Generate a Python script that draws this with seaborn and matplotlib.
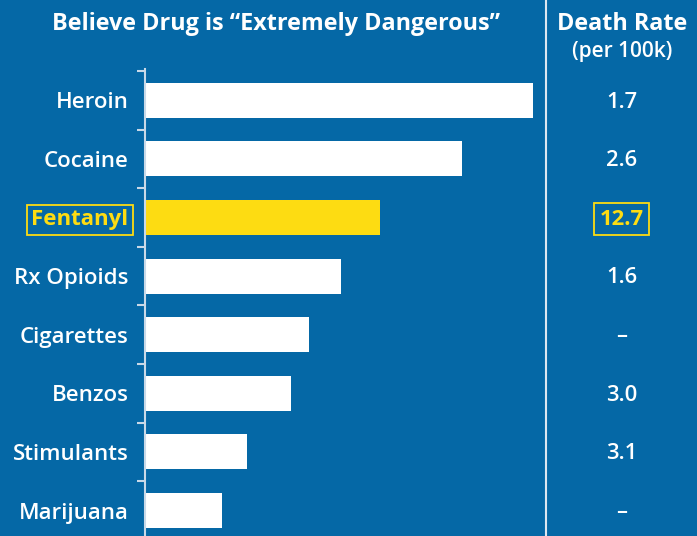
import matplotlib
matplotlib.use('Agg')
import matplotlib.pyplot as plt
import pandas as pd
import seaborn as sns

# Data (share saying drug is "extremely dangerous", %)
drugs = ['Heroin', 'Cocaine', 'Fentanyl', 'Rx Opioids', 'Cigarettes',
         'Benzos', 'Stimulants', 'Marijuana']
danger_pct = [76, 62.2, 46.1, 38.4, 32.2, 28.6, 20, 15.1]
death_rate = ['1.7', '2.6', '12.7', '1.6', '\u2013', '3.0', '3.1', '\u2013']
highlight = 'Fentanyl'

BG = '#0568a6'
YELLOW = '#fddc12'
LINE = '#c9d9e8'

sns.set_theme(style='white')
plt.rcParams['font.family'] = ['Open Sans', 'DejaVu Sans']

df = pd.DataFrame({'drug': drugs, 'pct': danger_pct, 'rate': death_rate})
palette = {d: (YELLOW if d == highlight else 'white') for d in drugs}

W, H = 697, 536
fig = plt.figure(figsize=(W / 100, H / 100), dpi=100, facecolor=BG)

# main bar panel
ax = fig.add_axes([145 / W, 0, 400 / W, 1 - 69 / H])
ax.set_facecolor(BG)
sns.barplot(data=df, x='pct', y='drug', hue='drug', palette=palette,
            legend=False, width=0.6, saturation=1, linewidth=0, ax=ax)
ax.set_xlim(0, 78.4)
ax.set_ylim(7.435, -0.534)
ax.set_xlabel('')
ax.set_ylabel('')
ax.set_xticks([])
for s in ['top', 'right', 'bottom']:
    ax.spines[s].set_visible(False)
ax.spines['left'].set_color(LINE)
ax.spines['left'].set_linewidth(1.5)

ax.set_yticks(range(len(drugs)))
ax.set_yticklabels(drugs, fontsize=16, fontweight='semibold', color='white')
ax.set_yticks([i - 0.5 for i in range(len(drugs))], minor=True)
ax.tick_params(axis='y', which='major', left=True, length=0, pad=12)
ax.tick_params(axis='y', which='minor', left=True, length=6, width=1.5,
               color=LINE, direction='out')

for lab in ax.get_yticklabels():
    if lab.get_text() == highlight:
        lab.set_color(YELLOW)
        lab.set_fontweight('bold')
        lab.set_bbox(dict(facecolor='none', edgecolor=YELLOW, linewidth=1.3,
                          boxstyle='square,pad=0.2'))

# right panel with death rates
ax2 = fig.add_axes([546 / W, 0, 151 / W, 1 - 69 / H], sharey=ax)
ax2.set_facecolor(BG)
ax2.set_xlim(0, 1)
ax2.axis('off')
for i, (d, r) in enumerate(zip(drugs, death_rate)):
    if d == highlight:
        ax2.text(0.5, i + 0.03, r, ha='center', va='center', fontsize=15.8,
                 fontweight='bold', color=YELLOW,
                 bbox=dict(facecolor='none', edgecolor=YELLOW, linewidth=1.3,
                           boxstyle='square,pad=0.25'))
    else:
        ax2.text(0.5, i + 0.03, r, ha='center', va='center', fontsize=15.8,
                 fontweight='semibold', color='white')

# separator line
fig.add_artist(plt.Line2D([545.5 / W, 545.5 / W], [0, 1],
                          transform=fig.transFigure, color='#dde7f0',
                          linewidth=1.5))

# headers
fig.text(276 / W, 1 - 24 / H, 'Believe Drug is \u201cExtremely Dangerous\u201d',
         ha='center', va='center', fontsize=16.8, fontweight='bold', color='white')
fig.text(622 / W, 1 - 24 / H, 'Death Rate', ha='center', va='center',
         fontsize=16.8, fontweight='bold', color='white')
fig.text(622 / W, 1 - 51 / H, '(per 100k)', ha='center', va='center',
         fontsize=15, fontweight='semibold', color='white')

fig.savefig('out.png', dpi=100, facecolor=BG)
